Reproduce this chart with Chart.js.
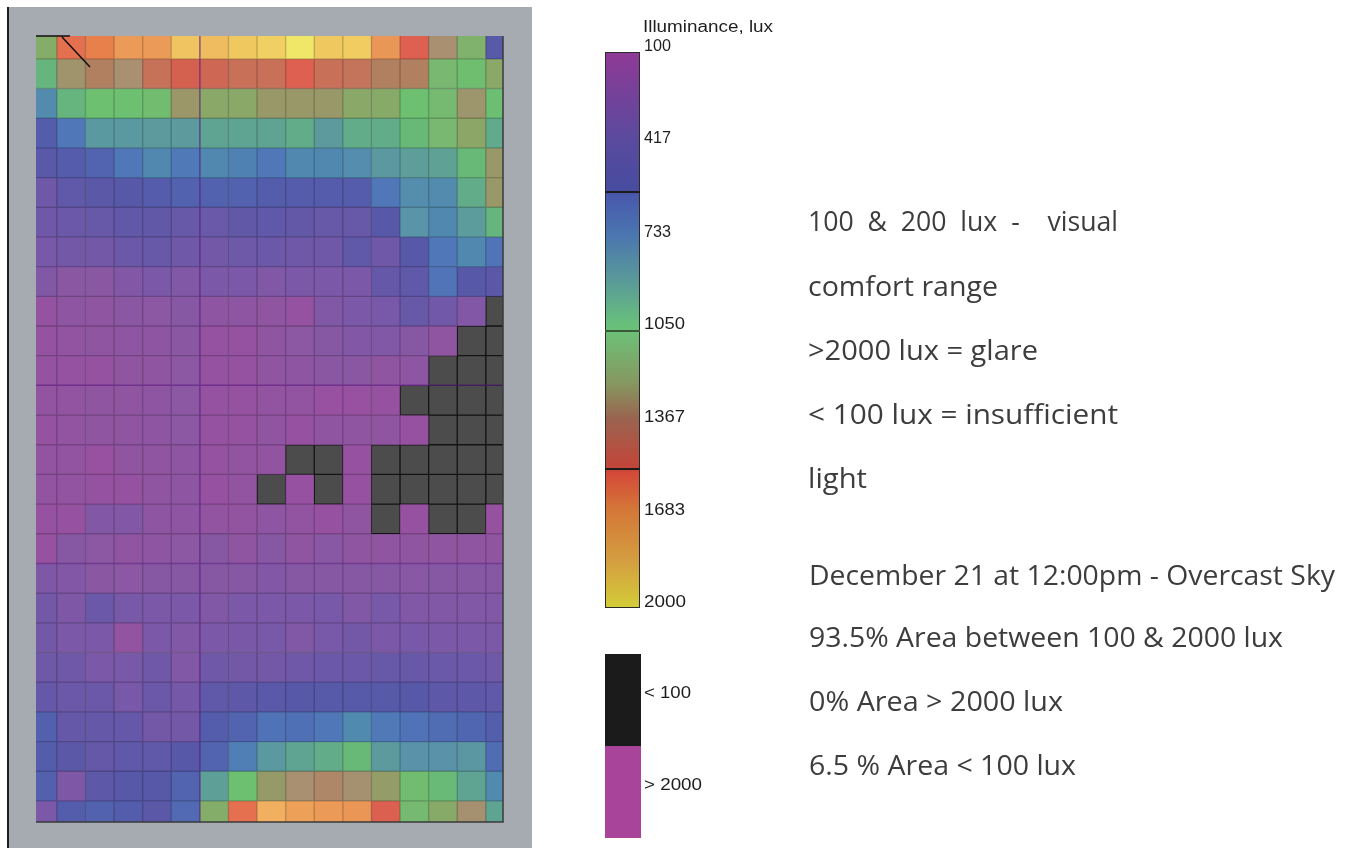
<!DOCTYPE html>
<html><head><meta charset="utf-8">
<script src="https://cdn.jsdelivr.net/npm/chart.js@4.4.1/dist/chart.umd.min.js"></script>
<style>
html,body{margin:0;padding:0;background:#fff;}
#wrap{position:relative;width:1355px;height:848px;overflow:hidden;}
#c{position:absolute;left:0;top:0;}
.t{position:absolute;left:808px;white-space:pre;font-family:"Open Sans";font-size:28px;line-height:28px;color:#3d3d3d;transform-origin:0 50%;}
.l{position:absolute;left:644px;white-space:pre;font-family:"Liberation Sans",Arial;font-size:16px;line-height:16px;color:#1e1e1e;transform-origin:0 50%;}
#bar{position:absolute;left:605px;top:52px;width:33px;height:554px;border:1px solid #2a2a2a;
background:linear-gradient(to bottom,#8e3a96 0px,#5a4a9e 86px,#464ca0 139px,#4858ac 141px,#4a74b0 180px,#5a9c98 230px,#68c07a 272px,#6cc078 279px,#869860 330px,#9a6450 365px,#c44438 416px,#d44a38 420px,#d47838 458px,#d4a040 510px,#d4cc38 554px);}
.sep{position:absolute;left:605px;width:35px;height:2px;background:#1c1c1c;}
</style></head>
<body><div id="wrap">
<canvas id="c" width="1355" height="848"></canvas>
<div id="bar"></div>
<div class="sep" style="top:191px"></div>
<div class="sep" style="top:330px;background:#3a5a3a"></div>
<div class="sep" style="top:468px"></div>
<div style="position:absolute;left:605px;top:654px;width:36px;height:92px;background:#1b1b1b"></div>
<div style="position:absolute;left:605px;top:746px;width:36px;height:92px;background:#a8449a"></div>
<div id="labels"></div>
<div id="notes"></div>
</div>
<script>
// Column and row indices of the illuminance grid (lux values per cell; < 100 lux cells marked 50)
const COLS = [0,1,2,3,4,5,6,7,8,9,10,11,12,13,14,15,16];
const r01 = [1150,1600,1650,1720,1720,1850,1830,1860,1900,2000,1860,1880,1700,1560,1300,1130,450];
const r02 = [1000,1270,1370,1300,1450,1520,1490,1460,1460,1560,1460,1440,1370,1370,1100,1070,1170];
const r03 = [780,1000,1060,1060,1080,1250,1170,1170,1240,1240,1240,1170,1160,1060,1090,1260,1050];
const r04 = [480,680,860,860,870,870,920,920,920,960,870,960,960,1020,1100,1180,950];
const r05 = [430,470,520,690,760,700,760,730,690,760,760,790,860,890,910,1020,1240];
const r06 = [310,400,420,440,470,510,510,510,480,470,470,470,690,790,780,960,1240];
const r07 = [310,330,350,390,390,350,340,390,400,380,350,350,440,830,760,880,1000];
const r08 = [270,290,290,330,350,310,290,320,330,310,310,400,310,440,680,760,640];
const r09 = [230,180,180,220,250,230,250,250,230,250,250,250,360,400,640,440,420];
const r10 = [130,160,150,180,170,200,160,160,150,130,230,250,270,350,300,220,50];
const r11 = [130,140,150,160,160,180,130,130,150,170,200,220,230,200,150,50,50];
const r12 = [130,130,130,150,150,170,130,130,150,160,180,180,150,160,50,50,50];
const r13 = [140,140,150,150,160,170,130,130,140,140,110,110,120,50,50,50,50];
const r14 = [130,140,150,150,160,170,130,130,150,120,150,150,150,120,50,50,50];
const r15 = [140,140,110,150,150,160,130,140,140,50,50,115,50,50,50,50,50];
const r16 = [140,140,130,130,150,160,120,140,50,120,50,120,50,50,50,50,50];
const r17 = [120,120,220,220,160,160,140,140,160,140,120,150,50,120,50,50,120];
const r18 = [120,200,170,150,160,170,200,150,200,150,190,150,150,150,150,150,150];
const r19 = [240,220,180,170,200,200,200,200,220,200,200,200,200,190,200,200,200];
const r20 = [290,240,330,270,250,250,230,250,250,250,270,230,270,230,230,230,230];
const r21 = [290,250,250,140,250,230,250,260,270,230,270,290,250,270,250,250,250];
const r22 = [320,310,250,270,310,230,310,290,290,310,330,330,350,350,340,330,320];
const r23 = [370,330,330,270,330,280,400,410,430,440,450,450,450,440,410,410,400];
const r24 = [500,370,370,370,290,290,480,520,620,600,690,770,700,630,580,540,490];
const r25 = [480,420,370,400,400,440,520,720,860,920,960,1020,870,820,820,850,580];
const r26 = [500,240,410,440,440,520,900,1060,1230,1300,1340,1290,1220,1080,1030,920,770];
const r27 = [250,480,510,480,420,560,1150,1600,1800,1740,1720,1700,1550,1090,1160,1290,920];
const ROWS = [r01,r02,r03,r04,r05,r06,r07,r08,r09,r10,r11,r12,r13,r14,r15,r16,r17,r18,r19,r20,r21,r22,r23,r24,r25,r26,r27];

// Legend tick labels and annotations
const LEGEND_TITLE = "Illuminance, lux";
const LEGEND_TICKS = ["100","417","733","1050","1367","1683","2000"];
const LEGEND_EXTRA = ["< 100","> 2000"];
const NOTES_TOP = ["100  &  200  lux  -    visual","comfort range",">2000 lux = glare","< 100 lux = insufficient","light"];
const NOTES_BOTTOM = ["December 21 at 12:00pm - Overcast Sky","93.5% Area between 100 & 2000 lux","0% Area > 2000 lux","6.5 % Area < 100 lux"];

// colour map (style)
const CMAP_V = [100,130,160,200,250,300,350,400,440,500,600,690,760,830,880,950,1020,1060,1100,1170,1240,1300,1370,1460,1520,1560,1600,1650,1700,1740,1800,1860,1900,2000];
const CMAP_C = ["#9a50a2","#9452a0","#8e56a2","#8658a4","#7c58a8","#7258a8","#6858a8","#6058a8","#5858a8","#5260ae","#5070b6","#5078b8","#5088b0","#5a94a8","#5c9c9c","#62aa8c","#68b878","#6cc070","#78b870","#8aa868","#989868","#a89070","#b08060","#c87058","#d46050","#de6050","#e47050","#e8804c","#ea9656","#eca058","#f0b060","#f0c860","#f0d062","#f0e668"];
function hex(h){return [parseInt(h.slice(1,3),16),parseInt(h.slice(3,5),16),parseInt(h.slice(5,7),16)];}
function rgbFor(v){
  if (v < 100) return [76,76,76];
  if (v >= 2000) return hex(CMAP_C[CMAP_C.length-1]);
  for (let i=0;i<CMAP_V.length-1;i++){
    if (v>=CMAP_V[i] && v<=CMAP_V[i+1]){
      const t=(v-CMAP_V[i])/(CMAP_V[i+1]-CMAP_V[i]);
      const a=hex(CMAP_C[i]), b=hex(CMAP_C[i+1]);
      return a.map((x,k)=>Math.round(x+(b[k]-x)*t));
    }
  }
  return hex(CMAP_C[0]);
}
const fillFor = v => { const c=rgbFor(v); return `rgb(${c[0]},${c[1]},${c[2]})`; };
const edgeFor = v => { if (v<100) return '#141414'; const c=rgbFor(v).map(x=>Math.round(x*0.8)); return `rgb(${c[0]},${c[1]},${c[2]})`; };

const datasets = ROWS.map((vals, r) => ({
  data: vals.map((v, c) => ({x: COLS[c], y: [r - 0.5, r + 0.5]})),
  backgroundColor: vals.map(fillFor),
  borderColor: vals.map(edgeFor),
  borderWidth: 1,
  borderSkipped: false,
  grouped: false,
  barPercentage: 1,
  categoryPercentage: 1
}));

const framePlugin = {
  id: 'frame',
  beforeDraw(chart) {
    const ctx = chart.ctx;
    ctx.save();
    ctx.fillStyle = '#a6abb1';
    ctx.fillRect(9, 7, 523, 841);
    ctx.fillStyle = '#1e1e1e';
    ctx.fillRect(7, 7, 2, 841);
    ctx.restore();
  },
  afterDatasetsDraw(chart) {
    const {ctx, chartArea: a, scales: {x, y}} = chart;
    ctx.save();
    ctx.beginPath();
    ctx.rect(a.left, a.top, a.right - a.left, a.bottom - a.top);
    ctx.clip();
    ctx.strokeStyle = 'rgba(105,35,150,0.55)';
    ctx.lineWidth = 1.5;
    ctx.beginPath();
    const xv = x.getPixelForValue(5.5);
    ctx.moveTo(xv, a.top); ctx.lineTo(xv, a.bottom);
    [11.5, 17.5].forEach(v => { const yy = y.getPixelForValue(v); ctx.moveTo(a.left, yy); ctx.lineTo(a.right, yy); });
    ctx.stroke();
    ctx.restore();
    ctx.save();
    ctx.strokeStyle = '#3a3a3a';
    ctx.lineWidth = 1.5;
    ctx.beginPath();
    ctx.moveTo(a.right, a.top); ctx.lineTo(a.right, a.bottom); ctx.lineTo(a.left, a.bottom);
    ctx.stroke();
    ctx.strokeStyle = '#111';
    ctx.lineWidth = 1.5;
    ctx.beginPath();
    ctx.moveTo(a.left, a.top); ctx.lineTo(a.left + 34, a.top);
    ctx.moveTo(a.left + 26, a.top + 1); ctx.lineTo(a.left + 54, a.top + 31);
    ctx.stroke();
    ctx.restore();
  }
};

new Chart(document.getElementById('c'), {
  type: 'bar',
  data: { datasets },
  options: {
    responsive: false,
    maintainAspectRatio: false,
    animation: false,
    layout: { padding: { left: 36, top: 36, right: 852, bottom: 26 } },
    plugins: { legend: { display: false }, tooltip: { enabled: false } },
    scales: {
      x: { type: 'linear', offset: false, min: -0.23, max: 16.1, display: false,
           grid: { offset: false },
           afterBuildTicks: s => { s.ticks = COLS.map(v => ({value: v})); } },
      y: { type: 'linear', offset: false, min: -0.27, max: 26.21, reverse: true, display: false,
           afterBuildTicks: s => { s.ticks = ROWS.map((_, i) => ({value: i})); } }
    }
  },
  plugins: [framePlugin]
});

// text
function addText(parent, cls, text, top, w, left) {
  const d = document.createElement('div');
  d.className = cls; d.textContent = text; d.style.top = top + 'px';
  if (left !== undefined) d.style.left = left + 'px';
  parent.appendChild(d);
  const bw = d.getBoundingClientRect().width;
  d.style.transform = `scaleX(${w / bw})`;
}
const L = document.getElementById('labels');
addText(L, 'l', LEGEND_TITLE, 27 - 8, 130, 643);
const tickY = [46, 138, 232, 324, 417, 510, 602];
const tickW = [27, 27, 27, 41, 41, 41, 42];
LEGEND_TICKS.forEach((t, i) => addText(L, 'l', t, tickY[i] - 8, tickW[i]));
addText(L, 'l', LEGEND_EXTRA[0], 693 - 8, 47);
addText(L, 'l', LEGEND_EXTRA[1], 785 - 8, 58);

const N = document.getElementById('notes');
const topY = [222, 287, 351, 415, 479];
const topW = [310, 190, 230, 310, 59];
NOTES_TOP.forEach((t, i) => addText(N, 't', t, topY[i] - 16, topW[i]));
const botY = [576, 638, 702, 766];
const botW = [526, 474, 254, 267];
NOTES_BOTTOM.forEach((t, i) => addText(N, 't', t, botY[i] - 16, botW[i], 809));
</script>
</body></html>
